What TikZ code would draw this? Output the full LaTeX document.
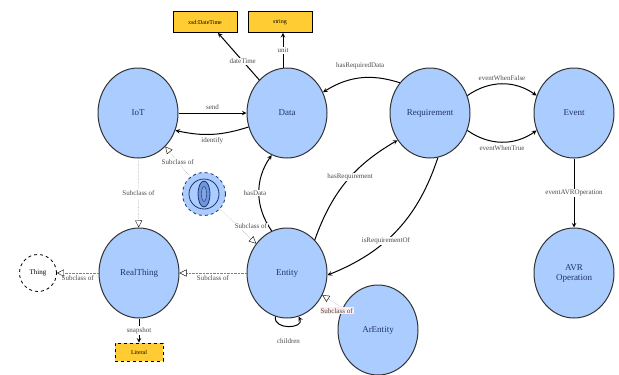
\documentclass[tikz,border=0pt]{standalone}
\usepackage{fontspec}
\setmainfont{Liberation Serif}
\usetikzlibrary{shapes.geometric, arrows, arrows.meta, positioning, calc}
\definecolor{classblue}{HTML}{AACCFF}
\definecolor{lensblue}{HTML}{6E96DC}
\definecolor{navy}{HTML}{22336A}
\definecolor{dtyellow}{HTML}{FFCC33}
\tikzstyle{classnode} = [ellipse, draw=black!80, line width=1pt, fill=classblue, minimum width=80pt, minimum height=90pt, inner sep=0, align=center, font=\fontsize{9}{10}\selectfont, text=navy]
\tikzstyle{datatype} = [draw, line width=0.8pt, fill=dtyellow, minimum width=64pt, minimum height=21pt, inner sep=0, font=\fontsize{6}{7}\selectfont]
\tikzstyle{arrow} = [line width=1pt,->,>=stealth]
\tikzstyle{subclass} = [densely dotted, gray, -{Triangle[open, length=7pt, width=7pt, black]}]
\tikzstyle{edgelabel} = [fill=white, inner sep=1pt, font=\fontsize{7}{8}\selectfont, text=black!70]

\begin{document}
\begin{tikzpicture}[x=1pt, y=1pt]
        \useasboundingbox (0,0) rectangle (619,-375);
        % classes
        \node[classnode] (iot) at (138,-113) {IoT};
        \node[classnode] (data) at (287,-113) {Data};
        \node[classnode] (requirement) at (430,-113) {Requirement};
        \node[classnode] (event) at (574,-113) {Event};
        \node[classnode] (avroperation) at (574,-273) {AVR\\Operation};
        \node[classnode] (realthing) at (139,-273) {RealThing};
        \node[classnode] (entity) at (287,-273) {Entity};
        \node[classnode] (arentity) at (378,-330) {ArEntity};
        \node[circle, draw, dashed, thick, fill=white, minimum size=37pt, inner sep=0, font=\fontsize{7}{8}\selectfont] (thing) at (38,-273) {Thing};

        % intersection symbol
        \node[circle, draw=navy, dashed, thick, fill=classblue, minimum size=43pt] (intersection) at (204,-194) {};
        \node[circle, draw=navy, thick, minimum size=30pt] (intersectionring) at (intersection) {};
        \node[ellipse, draw=navy, thick, fill=lensblue, minimum width=12pt, minimum height=26pt, inner sep=0] (intersectionlens) at (intersection) {};
        \node[ellipse, draw=navy, fill=lensblue!70!classblue, minimum width=5pt, minimum height=15pt, inner sep=0] (intersectioncore) at (intersection) {};

        % datatypes
        \node[datatype] (datetime) at (205,-22) {xsd:DateTime};
        \node[datatype] (string) at (280,-22) {string};
        \node[datatype, dashed, minimum width=48pt, minimum height=18pt] (literal) at (139,-352) {Literal};

        % object properties
        \draw[arrow] (iot) -- node[edgelabel, above=2pt, fill=none] {send} (data);
        \draw[arrow] (data.200) to[bend left=15] node[edgelabel, below=2pt, fill=none] {identify} (iot.-25);
        \draw[arrow] (data.130) -- node[edgelabel, pos=0.4] {dateTime} (datetime.-40);
        \draw[arrow] (data.95) -- node[edgelabel] {unit} (data.95 |- string.south);
        \draw[arrow] (requirement.135) to[bend right=25] node[edgelabel, above=8pt, fill=none] {hasRequiredData} (data.30);
        \draw[arrow] (requirement.25) to[bend left=35] node[edgelabel, above=2pt, fill=none] {eventWhenFalse} (event.155);
        \draw[arrow] (requirement.-25) to[bend right=35] node[edgelabel, below=2pt, fill=none] {eventWhenTrue} (event.-155);
        \draw[arrow] (event) -- node[edgelabel] {eventAVROperation} (avroperation);
        \draw[arrow] (entity.50) to[bend left=20] node[edgelabel, pos=0.55] {hasRequirement} (requirement.220);
        \draw[arrow] (requirement.-80) to[bend left=25] node[edgelabel, pos=0.6] {isRequirementOf} (entity.-3);
        \draw[arrow] (entity.110) to[bend left=35] node[edgelabel, xshift=-4pt] {hasData} (data.-110);
        \draw[arrow] (realthing) -- node[edgelabel] {snapshot} (literal);
        \draw[arrow] (entity.-105) .. controls +(-2,-14) and +(6,-12) .. node[edgelabel, below=11pt, fill=none] {children} (entity.-75);

        % subclass relations
        \draw[subclass] (intersection) -- node[edgelabel] {Subclass of} (iot);
        \draw[subclass] (intersection) -- node[edgelabel, pos=0.6, above right=0pt and -8pt] {Subclass of} (entity);
        \draw[subclass] (iot) -- node[edgelabel] {Subclass of} (realthing);
        \draw[subclass] (realthing) -- node[edgelabel, below=1pt, fill=none] {Subclass of} (thing);
        \draw[subclass] (entity) -- node[edgelabel, below=1pt, fill=none] {Subclass of} (realthing);
        \draw[subclass] (arentity) -- node[edgelabel, pos=0.3, below=3pt, fill=pink!30] {Subclass of} (entity);
    \end{tikzpicture}
\end{document}
